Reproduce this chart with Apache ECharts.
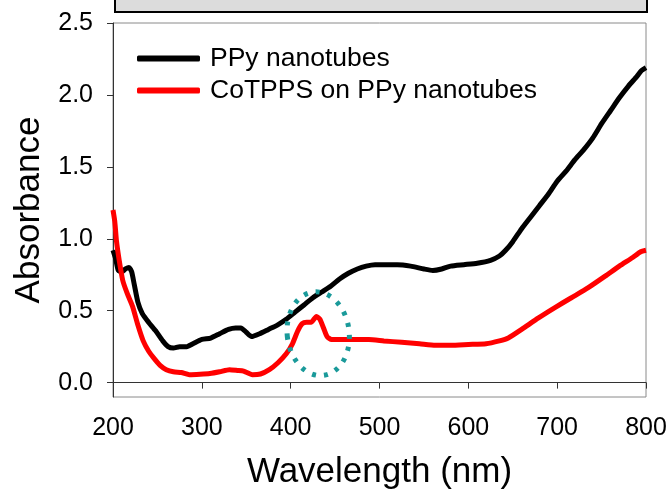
<!DOCTYPE html>
<html>
<head>
<meta charset="utf-8">
<script src="https://cdn.jsdelivr.net/npm/echarts@6/dist/echarts.min.js"></script>
<style>
html,body{margin:0;padding:0;background:#fff;}
#main{width:670px;height:496px;}
</style>
</head>
<body>
<div id="main"></div>
<script>
// Data
var seriesNames = ['PPy nanotubes', 'CoTPPS on PPy nanotubes'];
var xTicks = [200, 300, 400, 500, 600, 700, 800];
var yTicks = [0, 0.5, 1.0, 1.5, 2.0, 2.5];

var ppyWl = [200,203,206,210,214,218,221,224,228,233,240,248,256,262,268,275,283,290,300,310,320,330,338,344,350,356,365,375,385,395,405,415,425,435,445,455,465,475,485,495,505,520,535,550,560,570,580,595,610,625,635,642,650,660,670,680,690,700,710,720,730,740,750,760,770,780,790,795,800];
var ppyAbs = [0.92,0.86,0.78,0.77,0.79,0.80,0.77,0.68,0.56,0.48,0.42,0.36,0.29,0.25,0.24,0.25,0.25,0.27,0.30,0.31,0.34,0.37,0.38,0.38,0.35,0.32,0.34,0.37,0.40,0.44,0.49,0.54,0.59,0.63,0.67,0.72,0.76,0.79,0.81,0.82,0.82,0.82,0.81,0.79,0.78,0.79,0.81,0.82,0.83,0.85,0.88,0.92,0.98,1.07,1.15,1.23,1.31,1.40,1.47,1.55,1.62,1.70,1.80,1.89,1.98,2.06,2.13,2.17,2.19];

var coWl = [200,202,204,207,211,216,222,228,234,240,246,253,260,268,277,286,298,309,320,331,340,347,357,366,376,386,395,402,408,413,418,423,429,433,437,441,446,455,470,488,505,525,545,563,580,600,620,635,645,660,679,697,716,735,754,770,785,794,800];
var coAbs = [1.20,1.12,0.98,0.85,0.71,0.62,0.53,0.40,0.29,0.22,0.17,0.12,0.09,0.075,0.07,0.055,0.058,0.063,0.075,0.09,0.085,0.08,0.055,0.06,0.09,0.14,0.20,0.27,0.36,0.41,0.42,0.42,0.46,0.44,0.38,0.32,0.30,0.30,0.30,0.30,0.29,0.28,0.27,0.26,0.26,0.265,0.27,0.29,0.31,0.37,0.45,0.52,0.59,0.66,0.74,0.81,0.87,0.91,0.92];

// annotation ellipse centre (data coordinates)
var markCenter = [431, 0.34];

function pairs(xs, ys){ return xs.map(function(x,i){ return [x, ys[i]]; }); }

var FONT = "'Liberation Sans', Arial, sans-serif";
var chart = echarts.init(document.getElementById('main'), null, {renderer:'canvas'});
var option = {
  animation: false,
  backgroundColor: '#fff',
  grid: {left: 113, right: 24, top: 23, bottom: 99, show: true, borderColor: '#8a8a8a', borderWidth: 1, backgroundColor: 'transparent'},
  legend: {
    orient: 'vertical', left: 132, top: 40, itemGap: 5,
    itemWidth: 63, itemHeight: 6, icon: 'roundRect',
    textStyle: {fontFamily: FONT, fontSize: 26.5, color: '#000', padding: [0,0,0,5]},
    data: seriesNames
  },
  xAxis: {
    type: 'value', min: 200, max: 800, interval: 100,
    name: 'Wavelength (nm)', nameLocation: 'middle', nameGap: 58,
    nameTextStyle: {fontFamily: FONT, fontSize: 35, color: '#000'},
    axisLine: {show: true, lineStyle: {color: '#333', width: 1}},
    axisTick: {show: true, length: 6, lineStyle: {color: '#333'}},
    axisLabel: {fontFamily: FONT, fontSize: 25, color: '#000', margin: 19,
      customValues: xTicks},
    splitLine: {show: false}
  },
  yAxis: {
    type: 'value', min: -0.1, max: 2.5,
    name: 'Absorbance', nameLocation: 'middle', nameGap: 66,
    nameTextStyle: {fontFamily: FONT, fontSize: 35, color: '#000'},
    axisLine: {show: true, lineStyle: {color: '#333', width: 1}},
    axisTick: {show: true, length: 6, lineStyle: {color: '#333'}, customValues: yTicks},
    axisLabel: {fontFamily: FONT, fontSize: 25, color: '#000', margin: 20,
      customValues: yTicks, formatter: function(v){ return v.toFixed(1); }},
    splitLine: {show: false}
  },
  series: [
    {name: seriesNames[0], type: 'line', data: pairs(ppyWl, ppyAbs), showSymbol: false, smooth: 0.2,
     lineStyle: {color: '#000', width: 5}, itemStyle: {color: '#000'}, z: 2},
    {name: seriesNames[1], type: 'line', data: pairs(coWl, coAbs), showSymbol: false, smooth: 0.2,
     lineStyle: {color: '#ff0000', width: 5}, itemStyle: {color: '#ff0000'}, z: 3}
  ]
};
chart.setOption(option);

var c = chart.convertToPixel({gridIndex: 0}, markCenter);
chart.setOption({
  graphic: [
    {type: 'rect', z: 100, shape: {x: 115, y: -10, width: 532, height: 22},
     style: {fill: '#dcdcdc', stroke: '#000', lineWidth: 2}},
    {type: 'ellipse', z: 100, x: c[0], y: c[1], rotation: 0.12,
     shape: {cx: 0, cy: 0, rx: 31, ry: 42},
     style: {fill: 'none', stroke: '#1a9a9a', lineWidth: 5, lineDash: [4, 8]}}
  ]
});
</script>
</body>
</html>
